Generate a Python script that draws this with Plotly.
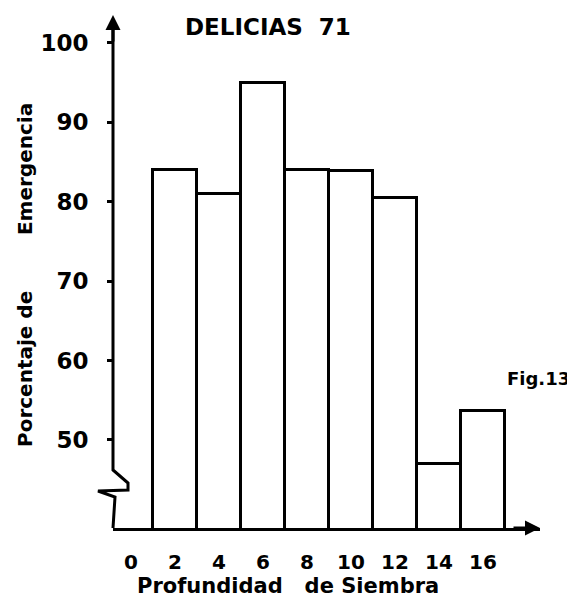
import plotly.graph_objects as go

# ---- data ----
depth = [2, 4, 6, 8, 10, 12, 14, 16]
emergence = [84, 81, 95, 84, 83.8, 80.5, 47, 53.6]
x_ticks = [0, 2, 4, 6, 8, 10, 12, 14, 16]
y_ticks = [50, 60, 70, 80, 90, 100]

OFF = 8  # browser body margin
W, H = 575 - OFF, 603 - OFF
X0, X1, Y0, Y1 = 113, 540, 15, 528  # plot area in screen pixels
L, T = X0 - OFF, Y0 - OFF
R, B = W - (X1 - OFF), H - (Y1 - OFF)
PW, PH = X1 - X0, Y1 - Y0
FONT = "DejaVu Sans"


def px(x, y):
    """screen pixel -> paper coords"""
    return (x - X0) / PW, (Y1 - y) / PH


fig = go.Figure()
fig.add_trace(go.Bar(
    x=depth, y=emergence, width=2,
    marker=dict(color="white", line=dict(color="black", width=3)),
    hoverinfo="x+y",
))

# y axis line with break symbol
pts = [(113, 22), (113, 470), (128, 483), (128, 490), (98, 491), (115, 497), (113, 528)]
path = "M " + " L ".join(f"{px(a, b)[0]},{px(a, b)[1]}" for a, b in pts)
shapes = [dict(type="path", path=path, xref="paper", yref="paper",
               line=dict(color="black", width=3))]

annotations = []
# arrowheads
annotations.append(dict(x=0, y=1, xref="paper", yref="paper", ax=0, ay=28,
                        showarrow=True, arrowhead=2, arrowwidth=3, arrowsize=1,
                        arrowcolor="black", text=""))
annotations.append(dict(x=1, y=0, xref="paper", yref="paper", ax=-28, ay=0,
                        showarrow=True, arrowhead=2, arrowwidth=3, arrowsize=1,
                        arrowcolor="black", text=""))


def label(text, x, y, size, angle=0):
    xp, yp = px(x, y)
    annotations.append(dict(x=xp, y=yp, xref="paper", yref="paper", text=text,
                            showarrow=False, textangle=angle,
                            xanchor="center", yanchor="middle",
                            font=dict(family=FONT, size=size, color="black", weight="bold")))


label("DELICIAS\u00a0 71", 268, 27, 23)
label("Porcentaje de" + "\u00a0" * 7 + " Emergencia", 25, 275, 20, -90)
label("Profundidad\u00a0\u00a0 de Siembra", 288, 586, 21)
label("Fig.13", 538, 378, 18)

fig.update_layout(
    width=W, height=H,
    margin=dict(l=L, r=R, t=T, b=B, pad=0),
    paper_bgcolor="white", plot_bgcolor="white",
    showlegend=False,
    bargap=0,
    shapes=shapes,
    annotations=annotations,
    xaxis=dict(range=[-0.818, 18.59], tickvals=x_ticks, ticktext=[str(v) for v in x_ticks],
               showgrid=False, zeroline=False, showline=True, linewidth=3, linecolor="black",
               ticks="", ticklabelstandoff=14,
               tickfont=dict(family=FONT, size=20, color="black", weight="bold")),
    yaxis=dict(range=[38.92, 103.5], tickvals=y_ticks, ticktext=[str(v) for v in y_ticks],
               showgrid=False, zeroline=False, showline=False,
               ticks="outside", ticklen=5, tickwidth=3, tickcolor="black",
               ticklabelstandoff=14,
               tickfont=dict(family=FONT, size=23, color="black", weight="bold")),
)

fig.write_html("out.html")
